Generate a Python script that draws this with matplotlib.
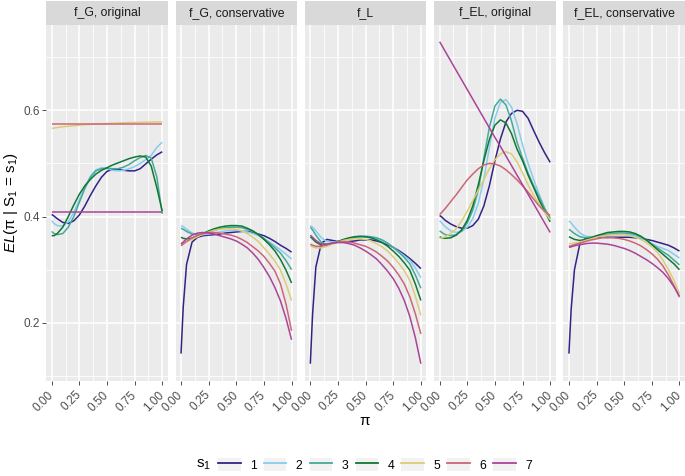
import matplotlib
matplotlib.use("Agg")
import matplotlib.pyplot as plt
from matplotlib.legend_handler import HandlerLine2D
from matplotlib.patches import Rectangle
from matplotlib.lines import Line2D

plt.rcParams['font.family'] = ['Liberation Sans', 'DejaVu Sans']
plt.rcParams['mathtext.fontset'] = 'custom'
plt.rcParams['mathtext.rm'] = 'Liberation Sans'
plt.rcParams['mathtext.it'] = 'Liberation Sans:italic'

pi_grid = [0.00, 0.02, 0.05, 0.10, 0.15, 0.20, 0.25, 0.30, 0.35, 0.40, 0.45,
           0.50, 0.55, 0.60, 0.65, 0.70, 0.75, 0.80, 0.85, 0.90, 0.95, 1.00]

s1_levels = ['1', '2', '3', '4', '5', '6', '7']
colors = ['#332288', '#88CCEE', '#44AA99', '#117733', '#DDCC77', '#CC6677', '#AA4499']

panel_titles = ['f_G, original', 'f_G, conservative', 'f_L', 'f_EL, original', 'f_EL, conservative']

fg_original = [
    [0.404, 0.401, 0.396, 0.389, 0.387, 0.392, 0.403, 0.420, 0.440, 0.458, 0.474, 0.485, 0.489, 0.489, 0.487, 0.486, 0.486, 0.490, 0.499, 0.508, 0.516, 0.522],
    [0.392, 0.387, 0.383, 0.382, 0.390, 0.408, 0.432, 0.456, 0.476, 0.488, 0.492, 0.490, 0.487, 0.486, 0.487, 0.490, 0.494, 0.500, 0.507, 0.515, 0.530, 0.540],
    [0.372, 0.368, 0.366, 0.368, 0.380, 0.400, 0.427, 0.453, 0.474, 0.486, 0.490, 0.491, 0.490, 0.490, 0.493, 0.498, 0.505, 0.511, 0.515, 0.510, 0.475, 0.405],
    [0.364, 0.364, 0.368, 0.380, 0.400, 0.422, 0.442, 0.458, 0.470, 0.480, 0.487, 0.492, 0.497, 0.501, 0.505, 0.509, 0.512, 0.514, 0.512, 0.495, 0.455, 0.410],
    [0.566, 0.5665, 0.5675, 0.569, 0.570, 0.571, 0.572, 0.573, 0.5735, 0.574, 0.5745, 0.575, 0.5755, 0.576, 0.5763, 0.5767, 0.577, 0.5773, 0.5776, 0.5778, 0.578, 0.578],
    [0.575, 0.575, 0.575, 0.575, 0.575, 0.575, 0.575, 0.575, 0.575, 0.575, 0.575, 0.575, 0.575, 0.575, 0.575, 0.575, 0.575, 0.575, 0.575, 0.575, 0.575, 0.575],
    [0.409, 0.409, 0.409, 0.409, 0.409, 0.409, 0.409, 0.409, 0.409, 0.409, 0.409, 0.409, 0.409, 0.409, 0.409, 0.409, 0.409, 0.409, 0.409, 0.409, 0.409, 0.409],
]

fg_conservative = [
    [0.142, 0.230, 0.310, 0.352, 0.361, 0.364, 0.365, 0.366, 0.367, 0.369, 0.370, 0.371, 0.372, 0.372, 0.370, 0.367, 0.364, 0.359, 0.353, 0.346, 0.340, 0.333],
    [0.383, 0.381, 0.376, 0.369, 0.366, 0.366, 0.367, 0.369, 0.371, 0.373, 0.374, 0.374, 0.373, 0.371, 0.368, 0.364, 0.358, 0.352, 0.345, 0.337, 0.329, 0.320],
    [0.378, 0.376, 0.372, 0.367, 0.366, 0.368, 0.371, 0.374, 0.377, 0.379, 0.380, 0.380, 0.379, 0.376, 0.372, 0.366, 0.359, 0.350, 0.341, 0.331, 0.317, 0.300],
    [0.361, 0.359, 0.358, 0.359, 0.363, 0.368, 0.373, 0.377, 0.380, 0.382, 0.383, 0.383, 0.382, 0.378, 0.373, 0.366, 0.357, 0.347, 0.335, 0.319, 0.299, 0.275],
    [0.350, 0.351, 0.353, 0.357, 0.362, 0.367, 0.371, 0.374, 0.376, 0.377, 0.377, 0.376, 0.373, 0.368, 0.361, 0.353, 0.341, 0.329, 0.316, 0.299, 0.273, 0.242],
    [0.345, 0.348, 0.353, 0.360, 0.365, 0.368, 0.370, 0.370, 0.369, 0.367, 0.365, 0.362, 0.357, 0.351, 0.343, 0.335, 0.325, 0.312, 0.297, 0.273, 0.235, 0.185],
    [0.348, 0.352, 0.358, 0.365, 0.369, 0.370, 0.369, 0.367, 0.364, 0.361, 0.358, 0.354, 0.348, 0.341, 0.331, 0.319, 0.304, 0.287, 0.266, 0.241, 0.208, 0.168],
]

f_l = [
    [0.123, 0.215, 0.305, 0.350, 0.357, 0.355, 0.353, 0.352, 0.353, 0.354, 0.356, 0.356, 0.356, 0.354, 0.351, 0.347, 0.342, 0.336, 0.329, 0.321, 0.312, 0.302],
    [0.383, 0.380, 0.373, 0.360, 0.353, 0.352, 0.353, 0.355, 0.358, 0.360, 0.361, 0.361, 0.360, 0.358, 0.354, 0.349, 0.342, 0.334, 0.326, 0.318, 0.303, 0.285],
    [0.380, 0.375, 0.365, 0.351, 0.348, 0.350, 0.353, 0.356, 0.359, 0.361, 0.362, 0.363, 0.362, 0.360, 0.356, 0.350, 0.342, 0.333, 0.323, 0.311, 0.290, 0.265],
    [0.362, 0.358, 0.352, 0.346, 0.346, 0.349, 0.353, 0.357, 0.360, 0.362, 0.363, 0.362, 0.360, 0.356, 0.351, 0.344, 0.335, 0.325, 0.313, 0.299, 0.273, 0.242],
    [0.345, 0.343, 0.341, 0.341, 0.344, 0.348, 0.352, 0.355, 0.357, 0.358, 0.358, 0.357, 0.354, 0.349, 0.343, 0.335, 0.324, 0.312, 0.298, 0.280, 0.250, 0.214],
    [0.348, 0.346, 0.344, 0.344, 0.347, 0.350, 0.352, 0.353, 0.352, 0.350, 0.347, 0.344, 0.339, 0.333, 0.325, 0.316, 0.304, 0.290, 0.273, 0.249, 0.217, 0.179],
    [0.365, 0.361, 0.355, 0.348, 0.348, 0.350, 0.351, 0.351, 0.349, 0.346, 0.341, 0.335, 0.328, 0.320, 0.309, 0.297, 0.283, 0.265, 0.242, 0.212, 0.172, 0.123],
]

fel_original = [
    [0.402, 0.399, 0.393, 0.386, 0.381, 0.378, 0.378, 0.383, 0.395, 0.420, 0.458, 0.505, 0.546, 0.578, 0.594, 0.600, 0.598, 0.585, 0.562, 0.540, 0.520, 0.502],
    [0.392, 0.388, 0.381, 0.373, 0.370, 0.372, 0.380, 0.396, 0.425, 0.470, 0.530, 0.585, 0.615, 0.620, 0.606, 0.575, 0.535, 0.500, 0.470, 0.442, 0.416, 0.394],
    [0.373, 0.370, 0.366, 0.364, 0.366, 0.373, 0.388, 0.412, 0.450, 0.510, 0.568, 0.608, 0.621, 0.610, 0.580, 0.540, 0.510, 0.482, 0.458, 0.437, 0.415, 0.397],
    [0.362, 0.360, 0.359, 0.360, 0.365, 0.375, 0.393, 0.420, 0.460, 0.505, 0.545, 0.572, 0.582, 0.576, 0.556, 0.527, 0.505, 0.478, 0.455, 0.431, 0.410, 0.390],
    [0.359, 0.360, 0.362, 0.368, 0.377, 0.392, 0.410, 0.430, 0.450, 0.470, 0.490, 0.507, 0.518, 0.522, 0.518, 0.503, 0.482, 0.460, 0.440, 0.423, 0.408, 0.394],
    [0.404, 0.408, 0.415, 0.428, 0.441, 0.455, 0.469, 0.480, 0.490, 0.497, 0.500, 0.499, 0.495, 0.488, 0.479, 0.469, 0.458, 0.446, 0.433, 0.420, 0.410, 0.402],
    [0.729, 0.722, 0.711, 0.693, 0.675, 0.657, 0.639, 0.621, 0.603, 0.585, 0.567, 0.549, 0.532, 0.514, 0.496, 0.478, 0.460, 0.442, 0.424, 0.406, 0.388, 0.370],
]

fel_conservative = [
    [0.142, 0.225, 0.300, 0.350, 0.359, 0.361, 0.361, 0.361, 0.361, 0.361, 0.361, 0.361, 0.361, 0.360, 0.359, 0.357, 0.355, 0.352, 0.349, 0.346, 0.341, 0.335],
    [0.392, 0.388, 0.380, 0.369, 0.363, 0.362, 0.363, 0.364, 0.365, 0.366, 0.366, 0.366, 0.365, 0.363, 0.360, 0.355, 0.349, 0.344, 0.340, 0.336, 0.329, 0.322],
    [0.376, 0.373, 0.368, 0.362, 0.360, 0.361, 0.363, 0.365, 0.367, 0.368, 0.369, 0.369, 0.368, 0.366, 0.362, 0.356, 0.348, 0.341, 0.334, 0.327, 0.318, 0.309],
    [0.362, 0.360, 0.357, 0.355, 0.357, 0.360, 0.364, 0.367, 0.370, 0.371, 0.372, 0.372, 0.371, 0.368, 0.363, 0.356, 0.347, 0.338, 0.329, 0.320, 0.311, 0.300],
    [0.349, 0.349, 0.350, 0.352, 0.355, 0.358, 0.361, 0.363, 0.365, 0.366, 0.366, 0.366, 0.364, 0.361, 0.357, 0.351, 0.343, 0.333, 0.318, 0.300, 0.280, 0.255],
    [0.344, 0.345, 0.347, 0.350, 0.353, 0.356, 0.358, 0.360, 0.360, 0.360, 0.359, 0.357, 0.354, 0.350, 0.345, 0.338, 0.330, 0.320, 0.307, 0.290, 0.270, 0.248],
    [0.342, 0.343, 0.345, 0.347, 0.349, 0.350, 0.350, 0.349, 0.348, 0.346, 0.343, 0.340, 0.336, 0.331, 0.325, 0.319, 0.312, 0.304, 0.295, 0.283, 0.268, 0.250],
]

panels = [fg_original, fg_conservative, f_l, fel_original, fel_conservative]

x_major = [0, 0.25, 0.5, 0.75, 1.0]
x_minor = [0.125, 0.375, 0.625, 0.875]
y_major = [0.2, 0.4, 0.6]
y_minor = [0.1, 0.3, 0.5, 0.7]


class KeyHandler(HandlerLine2D):
    # ggplot-like legend key: light grey box behind the line
    def create_artists(self, legend, orig_handle, xdescent, ydescent,
                       width, height, fontsize, trans):
        bg = Rectangle((-xdescent, -ydescent), width, height,
                       facecolor='#F2F2F2', edgecolor='none', transform=trans)
        arts = super().create_artists(legend, orig_handle, xdescent, ydescent,
                                      width, height, fontsize, trans)
        return [bg] + list(arts)


W, H = 685, 476
fig = plt.figure(figsize=(W / 100, H / 100), dpi=100)

left0, pw, step = 46.2, 121.6, 129.3
top, bottom, strip_h = 25, 381, 24.5

for i, (title, data) in enumerate(zip(panel_titles, panels)):
    x = left0 + i * step
    ax = fig.add_axes([x / W, 1 - bottom / H, pw / W, (bottom - top) / H])
    ax.set_facecolor('#EBEBEB')
    for sp in ax.spines.values():
        sp.set_visible(False)
    ax.set_axisbelow(True)
    ax.set_xticks(x_major)
    ax.set_xticks(x_minor, minor=True)
    ax.set_yticks(y_major)
    ax.set_yticks(y_minor, minor=True)
    ax.grid(which='major', color='white', lw=1.1)
    ax.grid(which='minor', color='white', lw=0.55)
    for s, c, vals in zip(s1_levels, colors, data):
        ax.plot(pi_grid, vals, color=c, lw=1.1, solid_capstyle='butt')
    ax.set_xlim(-0.05, 1.05)
    ax.set_ylim(0.0905, 0.7605)
    ax.set_xticklabels(['0.00', '0.25', '0.50', '0.75', '1.00'], rotation=45,
                       ha='right', va='center', rotation_mode='anchor')
    ax.tick_params(which='major', length=2.7, width=0.6, color='#333333',
                   labelsize=8.5, labelcolor='#4D4D4D', pad=2)
    ax.tick_params(axis='x', which='major', pad=6)
    ax.tick_params(which='minor', length=0)
    if i == 0:
        ax.set_yticklabels(['0.2', '0.4', '0.6'])
    else:
        ax.tick_params(axis='y', left=False, labelleft=False)

    sax = fig.add_axes([x / W, 1 - top / H, pw / W, strip_h / H])
    sax.set_facecolor('#D9D9D9')
    sax.set_xticks([])
    sax.set_yticks([])
    for sp in sax.spines.values():
        sp.set_visible(False)
    sax.text(0.5, 0.48, title, ha='center', va='center', fontsize=8.8,
             color='#1A1A1A', transform=sax.transAxes)

fig.text(11 / W, 1 - (top + bottom) / 2 / H, r'$\mathit{EL}$(π | S$_1$ = s$_1$)',
         rotation=90, ha='center', va='center', fontsize=11, color='black')
fig.text(365 / W, 1 - 421 / H, 'π', ha='center', va='center', fontsize=11)

handles = [Line2D([], [], color=c, lw=1.3) for c in colors]
fig.legend(handles, s1_levels, ncol=7, loc='center left',
           bbox_to_anchor=(218 / W, 1 - 465 / H), frameon=False,
           borderpad=0, borderaxespad=0, handlelength=1.85, handleheight=1.3,
           handletextpad=0.75, columnspacing=0.6, fontsize=8.8,
           handler_map={Line2D: KeyHandler()})
fig.text(196 / W, 1 - 465 / H, r'$\mathrm{s}_1$', ha='left', va='center', fontsize=11)

fig.savefig('out.png', dpi=100)
